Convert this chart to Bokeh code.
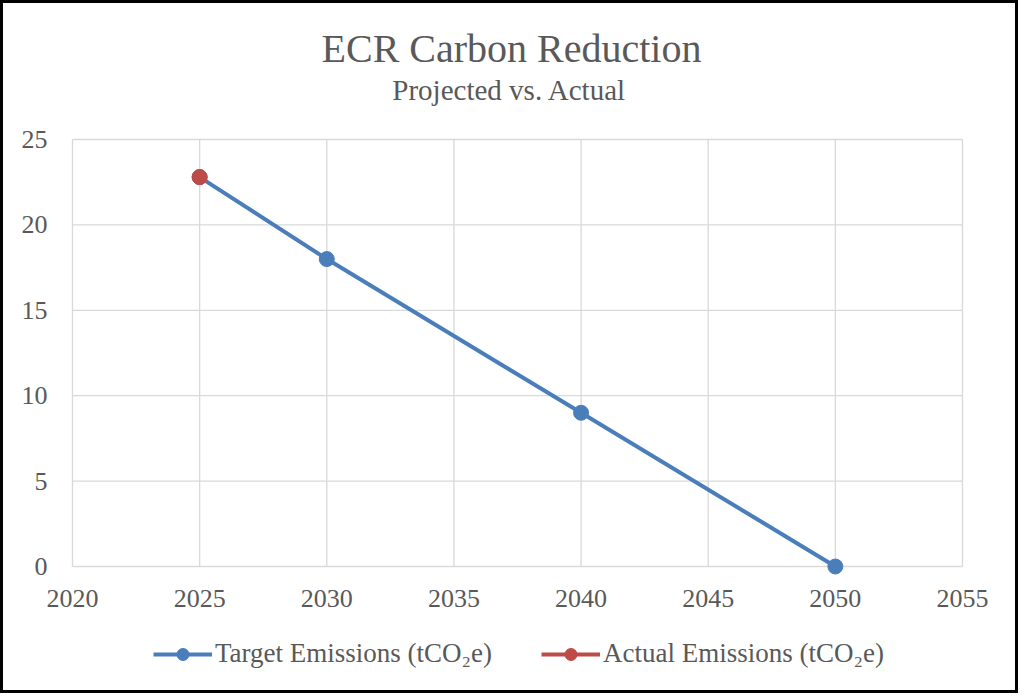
from bokeh.plotting import figure
from bokeh.models import Range1d, Label, Legend, LegendItem
from bokeh.embed import file_html
from bokeh.resources import INLINE

# --- data -------------------------------------------------------------
target_years = [2025, 2030, 2040, 2050]
target_emissions = [22.8, 18, 9, 0]          # tCO2e
actual_years = [2025]
actual_emissions = [22.8]                    # tCO2e

x_ticks = [2020, 2025, 2030, 2035, 2040, 2045, 2050, 2055]
y_ticks = [0, 5, 10, 15, 20, 25]

title_text = "ECR Carbon Reduction"
subtitle_text = "Projected vs. Actual"
target_label = "Target Emissions (tCO\u2082e)"
actual_label = "Actual Emissions (tCO\u2082e)"

# --- styling ----------------------------------------------------------
FONT = "Liberation Serif"
TEXT = "#595959"
GRID = "#d9d9d9"
BLUE = "#4a7ebb"
RED = "#be4b48"

# canvas geometry (pixels): the plotting frame covers the whole canvas so the
# titles, tick labels and legend are all drawn inside it around the grid
W, H = 1018, 693
GRID_LEFT, GRID_RIGHT = 69, 959      # pixel columns of first / last year tick
GRID_TOP, GRID_BOTTOM = 136, 563     # pixel rows of top / bottom value tick

x_lo, x_hi = x_ticks[0], x_ticks[-1]
y_lo, y_hi = y_ticks[0], y_ticks[-1]
px_x = (GRID_RIGHT - GRID_LEFT) / (x_hi - x_lo)
px_y = (GRID_BOTTOM - GRID_TOP) / (y_hi - y_lo)
x_range = Range1d(x_lo - GRID_LEFT / px_x, x_hi + (W - GRID_RIGHT) / px_x)
y_range = Range1d(y_lo - (H - GRID_BOTTOM) / px_y, y_hi + GRID_TOP / px_y)

p = figure(width=W, height=H, output_backend="svg", toolbar_location=None,
           x_range=x_range, y_range=y_range,
           x_axis_location=None, y_axis_location=None,
           min_border=0)
p.styles = {"border": "3px solid black"}
p.outline_line_color = None
p.background_fill_color = "white"
p.border_fill_color = "white"
p.grid.visible = False

# gridlines over the tick positions
p.segment(x0=x_ticks, y0=[y_lo] * len(x_ticks), x1=x_ticks, y1=[y_hi] * len(x_ticks),
          line_color=GRID, line_width=1.3)
p.segment(x0=[x_lo] * len(y_ticks), y0=y_ticks, x1=[x_hi] * len(y_ticks), y1=y_ticks,
          line_color=GRID, line_width=1.3)

# tick labels
p.text(x=x_ticks, y=[y_lo] * len(x_ticks), text=[str(t) for t in x_ticks],
       y_offset=32, text_align="center", text_baseline="middle",
       text_font={"value": FONT}, text_font_size="26px", text_color=TEXT)
p.text(x=[x_lo] * len(y_ticks), y=y_ticks, text=[str(t) for t in y_ticks],
       x_offset=-25, text_align="right", text_baseline="middle",
       text_font={"value": FONT}, text_font_size="26px", text_color=TEXT)

# --- series -----------------------------------------------------------
t_line = p.line(target_years, target_emissions, line_color=BLUE, line_width=4)
t_pts = p.scatter(target_years, target_emissions, size=15, fill_color=BLUE,
                  line_color=BLUE)
a_line = p.line(actual_years, actual_emissions, line_color=RED, line_width=4)
a_pts = p.scatter(actual_years, actual_emissions, size=15, fill_color=RED,
                  line_color=RED)

legend = Legend(items=[LegendItem(label=target_label, renderers=[t_line, t_pts]),
                       LegendItem(label=actual_label, renderers=[a_line, a_pts])],
                orientation="horizontal", location=(150, 27),
                border_line_color=None, background_fill_alpha=0,
                padding=0, margin=0, spacing=49, label_standoff=3,
                glyph_width=59, glyph_height=30,
                label_text_font=FONT, label_text_font_size="27px",
                label_text_color=TEXT)
p.add_layout(legend)

# --- titles -----------------------------------------------------------
p.add_layout(Label(x=508, y=648, x_units="screen", y_units="screen",
                   text=title_text, text_font=FONT, text_font_size="40px",
                   text_color=TEXT, text_align="center", text_baseline="middle"))
p.add_layout(Label(x=506, y=607, x_units="screen", y_units="screen",
                   text=subtitle_text, text_font=FONT, text_font_size="29px",
                   text_color=TEXT, text_align="center", text_baseline="middle"))

open("out.html", "w").write(file_html(p, INLINE))
